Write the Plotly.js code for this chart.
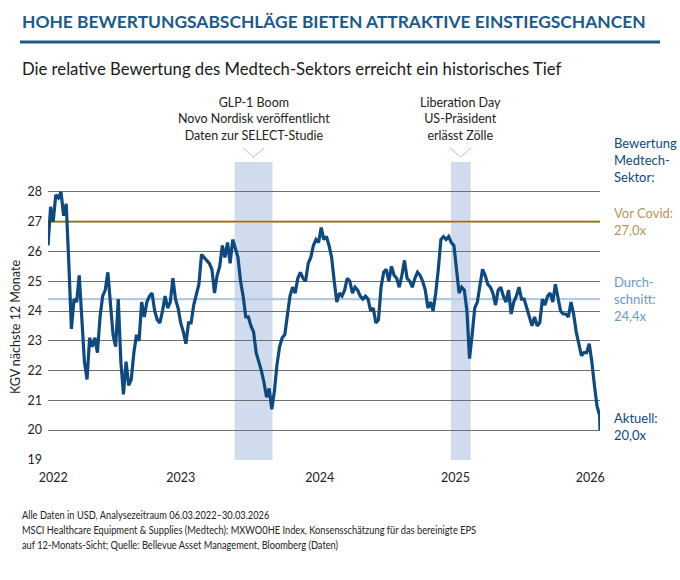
<!DOCTYPE html>
<html>
<head>
<meta charset="utf-8">
<script src="https://cdn.plot.ly/plotly-3.0.1.min.js"></script>
<style>
  html, body { margin: 0; padding: 0; background: #ffffff; }
  #chart { width: 680px; height: 580px; }
</style>
</head>
<body>
<div id="chart"></div>
<script>
// Forward P/E (next 12 months) of the MSCI medtech index, weekly readings from 06.03.2022
const seriesStart = '2022-03-06';
const seriesEnd = '2026-03-30';
const weeklyPE = [
  26.2, 27.5, 27.0, 27.9, 27.8, 28.0, 27.2, 27.6, 25.6, 23.4,
  24.4, 24.3, 25.2, 23.8, 22.3, 21.7, 23.1, 22.8, 23.1, 22.6,
  23.8, 24.5, 24.7, 25.3, 24.3, 23.2, 22.8, 24.4, 22.3, 21.2,
  22.3, 21.5, 21.7, 22.6, 23.2, 23.0, 24.3, 23.8, 24.3, 24.5,
  24.6, 24.0, 23.7, 23.6, 24.0, 24.5, 24.1, 24.3, 25.1, 24.4,
  24.1, 23.6, 23.3, 22.9, 23.6, 23.6, 24.2, 24.6, 24.9, 25.9,
  25.8, 25.7, 25.6, 25.4, 24.6, 25.2, 25.5, 26.2, 25.8, 26.3,
  25.6, 26.4, 26.1, 25.8, 25.0, 24.5, 23.8, 23.8, 23.5, 23.3,
  22.6, 22.3, 22.0, 21.6, 21.1, 21.4, 20.7, 21.3, 22.2, 22.8,
  23.1, 23.2, 23.8, 24.5, 24.8, 24.6, 25.1, 25.3, 25.1, 25.0,
  25.6, 25.8, 26.2, 26.4, 26.3, 26.8, 26.4, 26.5, 26.2, 25.8,
  25.0, 24.3, 24.6, 24.5, 24.7, 25.1, 25.0, 24.6, 24.8, 24.7,
  24.5, 24.4, 24.5, 24.4, 24.0, 24.1, 23.6, 23.7, 24.8, 25.3,
  25.4, 25.0, 25.5, 25.2, 25.1, 24.8, 25.2, 25.7, 25.1, 25.0,
  24.8, 25.1, 25.3, 25.2, 25.0, 24.7, 24.1, 24.3, 24.0, 24.6,
  25.4, 26.4, 26.5, 26.4, 26.5, 26.3, 26.2, 25.4, 24.6, 24.8,
  24.7, 24.0, 22.4, 23.2, 24.1, 24.3, 24.8, 25.4, 25.2, 24.9,
  24.8, 24.6, 24.2, 24.7, 24.8, 24.5, 24.3, 24.7, 23.9, 24.3,
  24.5, 24.8, 24.4, 24.4, 24.1, 23.8, 23.5, 23.8, 23.5, 23.6,
  24.4, 24.2, 24.5, 24.6, 24.3, 24.9, 24.4, 24.0, 23.9, 23.9,
  23.8, 24.3, 23.9, 23.3, 22.9, 22.5, 22.6, 22.6, 22.9, 22.3,
  21.5, 20.8, 20.5
];
const currentPE = 20.0;

// Reference levels
const preCovidPE = 27.0;
const averagePE = 24.4;

// Axis ticks
const yearTickDates = ['2022-03-20', '2023-02-26', '2024-03-06', '2025-03-06', '2026-03-04'];
const yearTickLabels = ['2022', '2023', '2024', '2025', '2026'];
const peTickValues = [19, 20, 21, 22, 23, 24, 25, 26, 27, 28, 29];
const peTickLabels = ['19', '20', '21', '22', '23', '24', '25', '26', '27', '28', ''];

// Highlighted event windows
const eventStarts = ['2023-07-21', '2025-02-22'];
const eventEnds = ['2023-10-31', '2025-04-16'];
const eventLabels = [
  'GLP-1 Boom<br>Novo Nordisk veröffentlicht<br>Daten zur SELECT-Studie',
  'Liberation Day<br>US-Präsident<br>erlässt Zölle'
];

const footnoteLines = [
  'Alle Daten in USD, Analysezeitraum 06.03.2022–30.03.2026',
  'MSCI Healthcare Equipment &amp; Supplies (Medtech): MXWO0HE Index, Konsensschätzung für das bereinigte EPS',
  'auf 12-Monats-Sicht; Quelle: Bellevue Asset Management, Bloomberg (Daten)'
];

const NAVY = '#0e4a80';
const TITLE_BLUE = '#1b5a8b';
const GOLD_LINE = '#c4a96e';
const GOLD_TEXT = '#b3965a';
const AVG_LINE = '#b3cbe9';
const AVG_TEXT = '#6b97c9';
const SHADE = '#d0dcee';
const FONT = 'Lato, "Open Sans", sans-serif';
const FOOTNOTE_WIDTH = 454;   // condensed footnote block width in px

// Build the date axis: one point per week, the last reading on the final day
const DAY = 86400000;
const t0 = Date.parse(seriesStart + 'T00:00:00Z');
const dates = weeklyPE.map((_, i) => new Date(t0 + i * 7 * DAY).toISOString().slice(0, 10));
dates.push(seriesEnd);
const values = weeklyPE.concat([currentPE]);

const fmt = v => v.toFixed(1).replace('.', ',') + 'x';
const midDate = (a, b) => new Date((Date.parse(a) + Date.parse(b)) / 2).toISOString().slice(0, 10);

const trace = {
  type: 'scatter',
  mode: 'lines',
  x: dates,
  y: values,
  line: { color: NAVY, width: 3.2 },
  hoverinfo: 'x+y',
  showlegend: false
};

const shapes = [];
const annotations = [];

eventStarts.forEach((s, k) => {
  const mid = midDate(s, eventEnds[k]);
  shapes.push({
    type: 'rect', layer: 'below', xref: 'x', yref: 'paper',
    x0: s, x1: eventEnds[k], y0: 0, y1: 1,
    fillcolor: SHADE, line: { width: 0 }
  });
  // small chevron pointing into the window
  shapes.push({
    type: 'line', xref: 'x', yref: 'paper', xsizemode: 'pixel', xanchor: mid,
    x0: -10.5, x1: 0, y0: 1.047, y1: 1.0168,
    line: { color: '#a9c3e6', width: 1 }
  });
  shapes.push({
    type: 'line', xref: 'x', yref: 'paper', xsizemode: 'pixel', xanchor: mid,
    x0: 0, x1: 10.5, y0: 1.0168, y1: 1.047,
    line: { color: '#a9c3e6', width: 1 }
  });
  annotations.push({
    xref: 'x', yref: 'paper', x: mid, y: 1.056, xanchor: 'center', yanchor: 'bottom',
    text: eventLabels[k], showarrow: false, align: 'center',
    font: { family: FONT, size: 12.5, color: '#222222' }
  });
});

// Reference lines
shapes.push({
  type: 'line', layer: 'between', xref: 'paper', yref: 'y',
  x0: 0, x1: 1, y0: preCovidPE, y1: preCovidPE,
  line: { color: GOLD_LINE, width: 2.5 }
});
shapes.push({
  type: 'line', layer: 'between', xref: 'paper', yref: 'y',
  x0: 0, x1: 1, y0: averagePE, y1: averagePE,
  line: { color: AVG_LINE, width: 2.2 }
});

// Header rule
shapes.push({
  type: 'line', xref: 'paper', yref: 'paper',
  x0: -0.0507, x1: 1.1087, y0: 1.4027, y1: 1.4027,
  line: { color: TITLE_BLUE, width: 3 }
});

// Header texts
annotations.push({
  xref: 'paper', yref: 'paper', x: -0.0507, y: 1.470, xanchor: 'left', yanchor: 'middle',
  text: '<b>HOHE BEWERTUNGSABSCHLÄGE BIETEN ATTRAKTIVE EINSTIEGSCHANCEN</b>',
  showarrow: false, font: { family: FONT, size: 17.4, color: TITLE_BLUE }
});
annotations.push({
  xref: 'paper', yref: 'paper', x: -0.0507, y: 1.311, xanchor: 'left', yanchor: 'middle',
  text: 'Die relative Bewertung des Medtech-Sektors erreicht ein historisches Tief',
  showarrow: false, font: { family: FONT, size: 16.7, color: '#1a1a1a' }
});

// Y axis title
annotations.push({
  xref: 'paper', yref: 'paper', x: -0.0598, y: 0.446, xanchor: 'center', yanchor: 'middle',
  textangle: -90, text: 'KGV nächste 12 Monate', showarrow: false,
  font: { family: FONT, size: 12.5, color: '#222222' }
});

// Right-hand legend texts
const rightX = 1.0217;
annotations.push({
  xref: 'paper', yref: 'paper', x: rightX, y: 1.0067, xanchor: 'left', yanchor: 'middle',
  align: 'left', text: 'Bewertung<br>Medtech-<br>Sektor:', showarrow: false,
  font: { family: FONT, size: 13, color: NAVY }
});
annotations.push({
  xref: 'paper', yref: 'y', x: rightX, y: preCovidPE, xanchor: 'left', yanchor: 'middle',
  align: 'left', text: 'Vor Covid:<br>' + fmt(preCovidPE), showarrow: false,
  font: { family: FONT, size: 13, color: GOLD_TEXT }
});
annotations.push({
  xref: 'paper', yref: 'y', x: rightX, y: averagePE, xanchor: 'left', yanchor: 'middle',
  align: 'left', text: 'Durch-<br>schnitt:<br>' + fmt(averagePE), showarrow: false,
  font: { family: FONT, size: 13, color: AVG_TEXT }
});
annotations.push({
  xref: 'paper', yref: 'y', x: rightX, y: currentPE, yshift: 4, xanchor: 'left', yanchor: 'middle',
  align: 'left', text: 'Aktuell:<br>' + fmt(currentPE), showarrow: false,
  font: { family: FONT, size: 13, color: NAVY }
});

// Footnote
annotations.push({
  xref: 'paper', yref: 'paper', x: -0.0507, y: -0.156, xanchor: 'left', yanchor: 'top',
  align: 'left', showarrow: false,
  text: footnoteLines.join('<br>'),
  font: { family: FONT, size: 11.6, color: '#222222' }
});

const layout = {
  width: 680,
  height: 580,
  margin: { l: 48, r: 80, t: 162, b: 120, pad: 0 },
  paper_bgcolor: '#ffffff',
  plot_bgcolor: 'rgba(0,0,0,0)',
  font: { family: FONT, color: '#222222' },
  showlegend: false,
  xaxis: {
    type: 'date',
    range: [seriesStart, seriesEnd],
    tickmode: 'array',
    tickvals: yearTickDates,
    ticktext: yearTickLabels,
    showgrid: false,
    zeroline: false,
    showline: false,
    ticks: '',
    ticklabelstandoff: 8,
    tickfont: { family: FONT, size: 12.5, color: '#222222' },
    fixedrange: true
  },
  yaxis: {
    range: [18.995, 29.005],
    tickmode: 'array',
    tickvals: peTickValues,
    ticktext: peTickLabels,
    showgrid: true,
    gridcolor: '#707070',
    gridwidth: 1,
    zeroline: false,
    showline: false,
    ticks: '',
    ticklabelstandoff: 5,
    tickfont: { family: FONT, size: 12.5, color: '#222222' },
    fixedrange: true
  },
  shapes: shapes,
  annotations: annotations
};

Plotly.newPlot('chart', [trace], layout, { displayModeBar: false, staticPlot: true }).then(gd => {
  // Set the footnote in a condensed width, scaling horizontally about its left edge
  gd.querySelectorAll('text.annotation-text').forEach(el => {
    if (!el.textContent.startsWith('Alle Daten')) return;
    const b = el.getBBox();
    if (!b.width) return;
    const s = FOOTNOTE_WIDTH / b.width;
    const prev = el.getAttribute('transform');
    const m = 'matrix(' + s + ',0,0,1,' + ((1 - s) * b.x) + ',0)';
    el.setAttribute('transform', prev ? prev + ' ' + m : m);
  });
});
</script>
</body>
</html>
